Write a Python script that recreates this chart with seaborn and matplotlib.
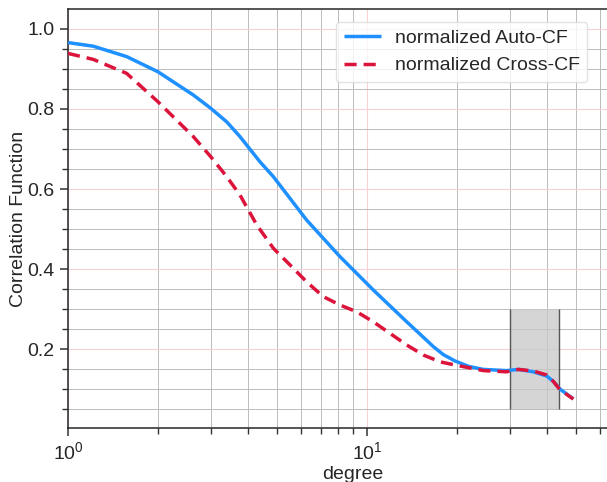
import numpy as np
import pandas as pd
import matplotlib
matplotlib.use("Agg")
import matplotlib.pyplot as plt
import seaborn as sns

# data
auto_deg = [1.0, 1.215, 1.571, 2.0, 2.625, 3.0, 3.394, 3.76, 4.386, 4.86, 6.28, 8.12, 10.5,
            13.58, 15.0, 16.67, 18.0, 19.7, 22.0, 24.5, 29.3, 32.1, 36.0, 39.9, 42.0, 44.2, 49.0]
auto_cf = [0.966, 0.957, 0.931, 0.893, 0.835, 0.802, 0.768, 0.731, 0.668, 0.631, 0.5225, 0.431,
           0.3475, 0.268, 0.238, 0.206, 0.186, 0.170, 0.156, 0.149, 0.146, 0.149, 0.143, 0.1325,
           0.119, 0.100, 0.075]
cross_deg = [1.0, 1.215, 1.571, 2.0, 2.625, 3.0, 3.394, 3.76, 4.28, 4.86, 5.53, 6.28, 7.14,
             8.12, 9.24, 10.5, 11.94, 13.58, 15.43, 17.55, 19.7, 24.5, 29.3, 32.1, 36.0,
             39.9, 42.0, 44.2, 49.0]
cross_cf = [0.939, 0.924, 0.889, 0.818, 0.731, 0.681, 0.631, 0.585, 0.510, 0.452, 0.410, 0.368,
            0.331, 0.310, 0.293, 0.268, 0.239, 0.210, 0.185, 0.168, 0.160, 0.146, 0.143, 0.149,
            0.145, 0.135, 0.119, 0.098, 0.075]
series_names = ["normalized Auto-CF", "normalized Cross-CF"]
box_x = [30, 44]
box_y = [0.05, 0.3]

sns.set_style("ticks")
plt.rcParams['font.family'] = ['Liberation Sans', 'DejaVu Sans']

df = pd.DataFrame({
    "degree": auto_deg + cross_deg,
    "value": auto_cf + cross_cf,
    "series": [series_names[0]] * len(auto_deg) + [series_names[1]] * len(cross_deg),
})

fig = plt.figure(figsize=(6.07, 4.82), dpi=100)
ax = fig.add_axes([68 / 607, 54 / 482, (637 - 68) / 607, (428 - 9) / 482])

ax.fill_between(box_x, box_y[0], box_y[1], color="#c8c8c8", alpha=0.75, lw=0, zorder=1)
ax.vlines(box_x, box_y[0], box_y[1], color="#555555", lw=1.0, zorder=1.5)

sns.lineplot(data=df, x="degree", y="value", hue="series", style="series",
             palette=["#1E90FF", "#DC143C"], dashes=[(1, 0), (3.5, 2.0)],
             linewidth=2.5, ax=ax, zorder=3)
for ln in ax.get_lines():
    ln.set_solid_joinstyle("round")
    ln.set_dash_joinstyle("round")

ax.set_xscale("log")
ax.set_xlim(1, 80)
ax.set_ylim(0.0025, 1.05)
ax.set_yticks([0.2, 0.4, 0.6, 0.8, 1.0])
ax.set_yticks(np.arange(0.05, 1.05, 0.05), minor=True)
ax.set_yticklabels(["0.2", "0.4", "0.6", "0.8", "1.0"])

ax.grid(which="major", color="#f6d2d2", lw=0.8, zorder=0)
ax.grid(which="minor", color="#bbbbbb", lw=0.7, zorder=0)
ax.set_axisbelow(True)

ax.tick_params(which="major", labelsize=14, length=6, width=1.1, color="#333333", labelcolor="#262626")
ax.tick_params(which="minor", length=4, width=1.0, color="#333333")
for s in ax.spines.values():
    s.set_color("#262626")
    s.set_linewidth(1.1)

ax.set_xlabel("degree", fontsize=14, color="#262626", labelpad=2)
ax.set_ylabel("Correlation Function", fontsize=14, color="#262626")
ax.yaxis.set_label_coords(-0.072, 0.5)

leg = ax.legend(loc="upper right", bbox_to_anchor=(0.93, 0.993), fontsize=14,
                frameon=True, framealpha=0.8, edgecolor="#dddddd", handlelength=1.9,
                handletextpad=0.7)
for line in leg.get_lines():
    line.set_linewidth(2.5)

fig.savefig("out.png", dpi=100)
